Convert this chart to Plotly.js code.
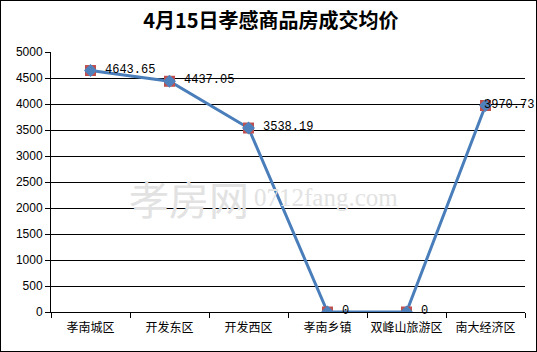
<!DOCTYPE html>
<html><head><meta charset="utf-8">
<script src="https://cdn.plot.ly/plotly-3.0.1.min.js"></script>
<style>
html,body{margin:0;padding:0;background:#fff;}
#wrap{position:relative;width:537px;height:352px;}
#chart{width:537px;height:352px;}
#frame{position:absolute;left:0;top:0;width:535px;height:350px;border:1px solid #000;pointer-events:none;}
</style></head>
<body><div id="wrap"><div id="chart"></div><div id="frame"></div></div>
<script>
const categories = ["孝南城区","开发东区","开发西区","孝南乡镇","双峰山旅游区","南大经济区"];
const prices = [4643.65, 4437.05, 3538.19, 0, 0, 3970.73];
const labels = ["4643.65","4437.05","3538.19","0","0","3970.73"];
const yTicks = [0,500,1000,1500,2000,2500,3000,3500,4000,4500,5000];
const labelShift = [12,12,12,12,12,-4];

const traces = [
  {x: categories, y: prices, type: "scatter", mode: "lines",
   line: {color: "#4A7EBB", width: 3}, hoverinfo: "skip", showlegend: false},
  {x: categories, y: prices, type: "scatter", mode: "markers",
   marker: {symbol: "square", size: 11, color: "#C0504D"}, showlegend: false},
  {x: categories, y: prices, type: "scatter", mode: "markers",
   marker: {symbol: "diamond", size: 10, color: "#4F81BD"}, showlegend: false}
];

const annotations = categories.map((c, i) => ({
  x: c, y: prices[i], xref: "x", yref: "y", text: labels[i], showarrow: false,
  xanchor: "left", yanchor: "middle", xshift: labelShift[i], yshift: 1,
  font: {family: "Liberation Mono, DejaVu Sans Mono, monospace", size: 12, color: "#000"}
}));
annotations.push({
  xref: "paper", yref: "paper", x: 0.16, y: 0.44, xanchor: "left", yanchor: "middle",
  text: "孝房网", showarrow: false,
  font: {family: "Noto Sans CJK SC", size: 40, color: "#e2e2e2"}
});
annotations.push({
  xref: "paper", yref: "paper", x: 0.425, y: 0.44, xanchor: "left", yanchor: "middle",
  text: "0712fang.com", showarrow: false,
  font: {family: "Liberation Serif", size: 25, color: "#e2e2e2"}
});

const layout = {
  width: 537, height: 352,
  margin: {l: 51, r: 12, t: 52, b: 40},
  paper_bgcolor: "#fff", plot_bgcolor: "#fff",
  title: {text: "<b>4月15日孝感商品房成交均价</b>", x: 0.464, xanchor: "center", xref: "paper",
          yref: "container", y: 0.94, yanchor: "middle",
          font: {family: "Noto Sans CJK SC", size: 20, color: "#000"}},
  xaxis: {type: "category", showgrid: false, showline: true, linecolor: "#000", linewidth: 1,
          ticks: "outside", tickson: "boundaries", ticklen: 5, tickcolor: "#000",
          tickangle: 0, ticklabelstandoff: 5,
          tickfont: {family: "Noto Sans CJK SC", size: 12, color: "#000"},
          range: [-0.5, 5.5], fixedrange: true},
  yaxis: {range: [0, 5000], tickvals: yTicks, ticktext: yTicks.map(String),
          showgrid: true, gridcolor: "#000", gridwidth: 1,
          showline: true, linecolor: "#000", linewidth: 1, zeroline: false,
          ticks: "outside", ticklen: 5, tickcolor: "#000",
          tickfont: {family: "Liberation Sans", size: 12, color: "#000"}},
  annotations: annotations
};
Plotly.newPlot("chart", traces, layout, {displayModeBar: false, staticPlot: true});
</script></body></html>
